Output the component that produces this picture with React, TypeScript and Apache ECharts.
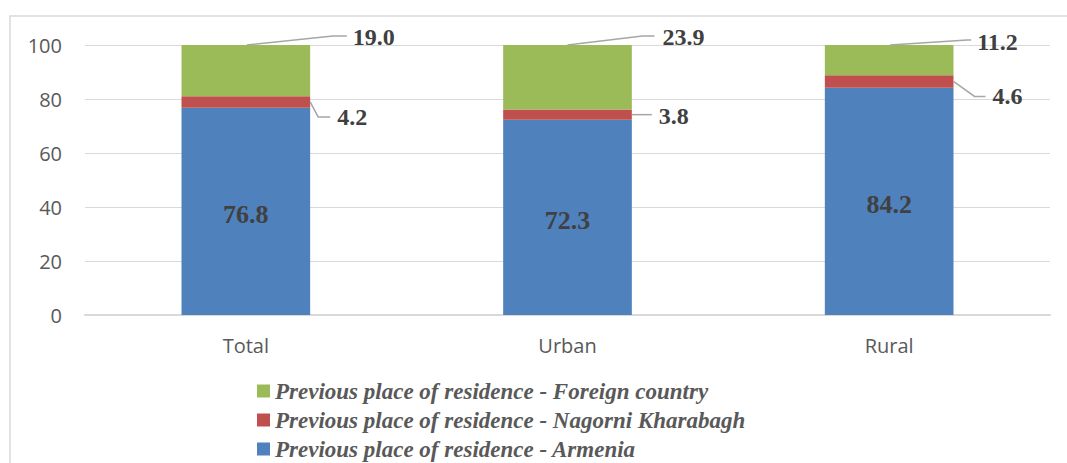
import React, { useEffect, useRef } from "react";
import * as echarts from "echarts";

const categories = ["Total", "Urban", "Rural"];
const armenia = [76.8, 72.3, 84.2];
const nagorni = [4.2, 3.8, 4.6];
const foreign = [19.0, 23.9, 11.2];
const yTicks = [0, 20, 40, 60, 80, 100];

const seriesNames = [
  "Previous place of residence - Armenia",
  "Previous place of residence - Nagorni Kharabagh",
  "Previous place of residence - Foreign country",
];

const SERIF = "'Times New Roman', 'Liberation Serif', serif";
const SANS = "'Open Sans', 'Liberation Sans', sans-serif";
const LABEL_COLOR = "#404040";
const GUIDE_COLOR = "#a6a6a6";

// layout of leader lines (pixel offsets), per category
const greenGuide = [
  { sx: 1, mx: 87, my: -9, ex: 101, ey: -9, tx: 107, ty: -8 },
  { sx: 0, mx: 75, my: -9, ex: 87, ey: -9, tx: 95, ty: -8 },
  { sx: 1, mx: 78, my: -5, ex: 82, ey: -5, tx: 88, ty: -3 },
];
const redGuide = [
  { mx: 8, my: 15, ex: 20, ey: 15, tx: 27, ty: 15 },
  { mx: 10, my: 0, ex: 20, ey: 0, tx: 27, ty: 1 },
  { mx: 21, my: 15, ex: 32, ey: 15, tx: 39, ty: 15 },
];

export default function App() {
  const ref = useRef<HTMLDivElement>(null);
  useEffect(() => {
    document.body.style.margin = "0";
    if (!ref.current) return;
    const chart = echarts.init(ref.current, undefined, { renderer: "svg" });

    const greenData = categories.map((_, i) => [i, armenia[i] + nagorni[i] + foreign[i], foreign[i]]);
    const redData = categories.map((_, i) => [i, armenia[i] + nagorni[i] / 2, nagorni[i]]);

    const textStyle = (text: string, x: number, y: number) => ({
      type: "text",
      style: {
        text,
        x,
        y,
        fill: LABEL_COLOR,
        fontSize: 24,
        fontWeight: "bold",
        fontFamily: SERIF,
        align: "left",
        verticalAlign: "middle",
      },
    });

    chart.setOption({
      animation: false,
      graphic: [
        {
          type: "rect",
          shape: { x: 10, y: 16, width: 1200, height: 600 },
          style: { fill: "none", stroke: "#d9d9d9", lineWidth: 1.5 },
          silent: true,
          z: -10,
        },
      ],
      grid: { left: 85, right: 17, top: 45, bottom: 148, containLabel: false },
      legend: {
        orient: "vertical",
        left: 257,
        top: 379,
        height: 84,
        padding: 0,
        itemWidth: 13,
        itemHeight: 13,
        itemGap: 5,
        icon: "rect",
        data: [seriesNames[2], seriesNames[1], seriesNames[0]],
        textStyle: {
          fontFamily: SERIF,
          fontSize: 23,
          fontWeight: "bold",
          fontStyle: "italic",
          color: "#595959",
          lineHeight: 24,
          padding: [0, 0, 0, 0],
        },
      },
      xAxis: {
        type: "category",
        data: categories,
        axisTick: { show: false },
        axisLine: { lineStyle: { color: "#d9d9d9", width: 2 } },
        axisLabel: { fontFamily: SANS, fontSize: 20, color: "#595959", margin: 20 },
      },
      yAxis: {
        type: "value",
        min: yTicks[0],
        max: yTicks[yTicks.length - 1],
        interval: yTicks[1] - yTicks[0],
        axisLine: { show: false },
        axisTick: { show: false },
        splitLine: { lineStyle: { color: "#d9d9d9", width: 1.2 } },
        axisLabel: { fontFamily: SANS, fontSize: 20, color: "#595959", margin: 23 },
      },
      series: [
        {
          name: seriesNames[0],
          type: "bar",
          stack: "total",
          barWidth: "40%",
          data: armenia,
          itemStyle: { color: "#4f81bd" },
          label: {
            show: true,
            position: "inside",
            formatter: (p: any) => Number(p.value).toFixed(1),
            fontFamily: SERIF,
            fontSize: 26,
            fontWeight: "bold",
            color: LABEL_COLOR,
            offset: [0, 3],
          },
        },
        {
          name: seriesNames[1],
          type: "bar",
          stack: "total",
          barWidth: "40%",
          data: nagorni,
          itemStyle: { color: "#c0504d" },
        },
        {
          name: seriesNames[2],
          type: "bar",
          stack: "total",
          barWidth: "40%",
          data: foreign,
          itemStyle: { color: "#9bbb59" },
        },
        {
          name: "foreignLabels",
          type: "custom",
          clip: false,
          silent: true,
          z: 5,
          encode: { x: 0, y: 1 },
          data: greenData,
          renderItem: (params: any, api: any) => {
            const i = api.value(0);
            const p = api.coord([i, api.value(1)]);
            const g = greenGuide[i];
            const cx = p[0];
            const cy = p[1];
            return {
              type: "group",
              children: [
                {
                  type: "polyline",
                  shape: {
                    points: [
                      [cx + g.sx, cy],
                      [cx + g.mx, cy + g.my],
                      [cx + g.ex, cy + g.ey],
                    ],
                  },
                  style: { stroke: GUIDE_COLOR, lineWidth: 1.5, fill: "none" },
                },
                textStyle(Number(api.value(2)).toFixed(1), cx + g.tx, cy + g.ty),
              ],
            };
          },
        },
        {
          name: "nagorniLabels",
          type: "custom",
          clip: false,
          silent: true,
          z: 5,
          encode: { x: 0, y: 1 },
          data: redData,
          renderItem: (params: any, api: any) => {
            const i = api.value(0);
            const p = api.coord([i, api.value(1)]);
            const half = (api.size([1, 0])[0] * 0.4) / 2;
            const g = redGuide[i];
            const sx = p[0] + half;
            const sy = p[1];
            return {
              type: "group",
              children: [
                {
                  type: "polyline",
                  shape: {
                    points: [
                      [sx, sy],
                      [sx + g.mx, sy + g.my],
                      [sx + g.ex, sy + g.ey],
                    ],
                  },
                  style: { stroke: GUIDE_COLOR, lineWidth: 1.5, fill: "none" },
                },
                textStyle(Number(api.value(2)).toFixed(1), sx + g.tx, sy + g.ty),
              ],
            };
          },
        },
      ],
    });
    return () => chart.dispose();
  }, []);
  return <div ref={ref} style={{ width: 1067, height: 463 }} />;
}
